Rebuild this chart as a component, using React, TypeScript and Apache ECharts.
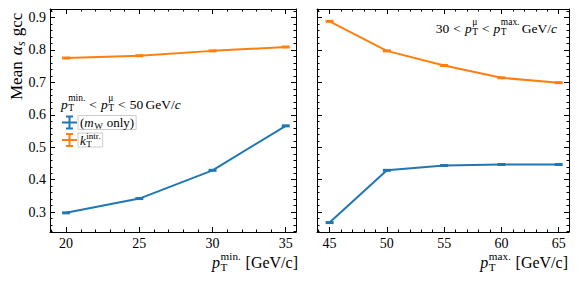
import React, { useEffect, useRef } from "react";
import * as echarts from "echarts";

// ---- data ----
const leftX = [20, 25, 30, 35];
const leftBlue = [0.298, 0.342, 0.429, 0.566];
const leftOrange = [0.775, 0.782, 0.797, 0.809];
const rightX = [45, 50, 55, 60, 65];
const rightBlue = [0.268, 0.429, 0.444, 0.447, 0.447];
const rightOrange = [0.888, 0.797, 0.752, 0.714, 0.699];

const yMajor = [0.3, 0.4, 0.5, 0.6, 0.7, 0.8, 0.9];
const yMinor = [0.24, 0.26, 0.28, 0.32, 0.34, 0.36, 0.38, 0.42, 0.44, 0.46, 0.48, 0.52, 0.54, 0.56, 0.58, 0.62, 0.64, 0.66, 0.68, 0.72, 0.74, 0.76, 0.78, 0.82, 0.84, 0.86, 0.88, 0.92];
const leftXMajor = [20, 25, 30, 35];
const leftXMinor = [19, 21, 22, 23, 24, 26, 27, 28, 29, 31, 32, 33, 34];
const rightXMajor = [45, 50, 55, 60, 65];
const rightXMinor = [44, 46, 47, 48, 49, 51, 52, 53, 54, 56, 57, 58, 59, 61, 62, 63, 64];

const BLUE = "#1f77b4";
const ORANGE = "#ff7f0e";
const FONT = "'Liberation Serif', 'DejaVu Serif', serif";

let measureCtx: CanvasRenderingContext2D | null = null;
function tw(t: string, size: number, it: boolean) {
  if (!measureCtx) measureCtx = document.createElement("canvas").getContext("2d");
  measureCtx!.font = `${it ? "italic " : ""}${size}px ${FONT}`;
  return measureCtx!.measureText(t).width;
}

type Seg = { t?: string; it?: boolean; sub?: string; sup?: string; subIt?: boolean; supIt?: boolean; gap?: number };

function math(segs: Seg[], size: number, x: number, y: number, align: "left" | "right", rotation = 0, supOff = 0.42) {
  const ss = size * 0.7;
  const children: any[] = [];
  let cx = 0;
  const mk = (text: string, px: number, py: number, sz: number, it: boolean) => ({
    type: "text",
    x: px,
    y: py,
    silent: true,
    style: { text, fill: "#000", fontSize: sz, fontFamily: FONT, fontStyle: it ? "italic" : "normal", align: "left", verticalAlign: "middle" },
  });
  for (const s of segs) {
    if (s.gap) cx += s.gap * size;
    if (s.t) {
      children.push(mk(s.t, cx, 0, size, !!s.it));
      cx += tw(s.t, size, !!s.it);
    }
    if (s.sub !== undefined || s.sup !== undefined) {
      let w = 0;
      cx += 0.5;
      if (s.sub) {
        children.push(mk(s.sub, cx, size * 0.3, ss, !!s.subIt));
        w = Math.max(w, tw(s.sub, ss, !!s.subIt));
      }
      if (s.sup) {
        children.push(mk(s.sup, cx, -size * supOff, ss, !!s.supIt));
        w = Math.max(w, tw(s.sup, ss, !!s.supIt));
      }
      cx += w;
    }
  }
  const gx = align === "right" && rotation === 0 ? x - cx : x;
  return { el: { type: "group", x: gx, y, rotation, children }, width: cx };
}

function xAxes(grid: number, min: number, max: number, major: number[], minor: number[]) {
  const base = { type: "value", gridIndex: grid, min, max, splitLine: { show: false } };
  const line = { show: true, onZero: false, lineStyle: { color: "#000", width: 1 } };
  const mk = (position: string, ticks: number[], len: number, showLine: boolean, label: boolean) => ({
    ...base,
    position,
    axisLine: showLine ? line : { show: false, onZero: false },
    axisTick: { show: true, inside: true, length: len, customValues: ticks, lineStyle: { color: "#000", width: 1 } },
    axisLabel: label
      ? { show: true, customValues: ticks, margin: 4, fontFamily: FONT, fontSize: 14, color: "#000" }
      : { show: false },
  });
  return [mk("bottom", major, 5, true, true), mk("bottom", minor, 2.5, false, false), mk("top", major, 5, true, false), mk("top", minor, 2.5, false, false)];
}

function yAxes(grid: number, labels: boolean) {
  const base = { type: "value", gridIndex: grid, min: 0.239, max: 0.926, splitLine: { show: false } };
  const line = { show: true, onZero: false, lineStyle: { color: "#000", width: 1 } };
  const mk = (position: string, ticks: number[], len: number, showLine: boolean, label: boolean) => ({
    ...base,
    position,
    axisLine: showLine ? line : { show: false, onZero: false },
    axisTick: { show: true, inside: true, length: len, customValues: ticks, lineStyle: { color: "#000", width: 1 } },
    axisLabel: label
      ? { show: true, customValues: ticks, margin: 4, fontFamily: FONT, fontSize: 14, color: "#000", formatter: (v: number) => v.toFixed(1) }
      : { show: false },
  });
  return [mk("left", yMajor, 5, true, labels), mk("left", yMinor, 2.5, false, false), mk("right", yMajor, 5, true, false), mk("right", yMinor, 2.5, false, false)];
}

function series(xs: number[], ys: number[], color: string, xi: number, yi: number) {
  return {
    type: "line",
    xAxisIndex: xi,
    yAxisIndex: yi,
    data: xs.map((x, i) => [x, ys[i]]),
    symbol: "rect",
    symbolSize: [8, 3],
    showSymbol: true,
    color,
    lineStyle: { color, width: 2 },
    itemStyle: { color },
    silent: true,
  };
}

function errIcon(cx: number, cy: number, color: string) {
  const ls = { stroke: color, lineWidth: 2 };
  return [
    { type: "line", shape: { x1: cx - 7.5, y1: cy, x2: cx + 7.5, y2: cy }, style: ls, silent: true },
    { type: "line", shape: { x1: cx, y1: cy - 6, x2: cx, y2: cy + 6 }, style: ls, silent: true },
    { type: "line", shape: { x1: cx - 3.5, y1: cy - 6, x2: cx + 3.5, y2: cy - 6 }, style: ls, silent: true },
    { type: "line", shape: { x1: cx - 3.5, y1: cy + 6, x2: cx + 3.5, y2: cy + 6 }, style: ls, silent: true },
  ];
}

function buildOption() {
  const G = 0.3;
  const legendTitle = math(
    [{ t: "p", it: true }, { sub: "T", sup: "min." }, { gap: G }, { t: "<" }, { gap: G }, { t: "p", it: true }, { sub: "T", sup: "μ" }, { gap: G }, { t: "<" }, { gap: G }, { t: "50" }, { gap: 0.17 }, { t: "GeV/" }, { t: "c", it: true }],
    13.5, 61, 104, "left");
  const annot = math(
    [{ t: "30" }, { gap: G }, { t: "<" }, { gap: G }, { t: "p", it: true }, { sub: "T", sup: "μ" }, { gap: G }, { t: "<" }, { gap: G }, { t: "p", it: true }, { sub: "T", sup: "max." }, { gap: 0.17 }, { t: "GeV/" }, { t: "c", it: true }],
    13.5, 557, 28, "right");
  const xl1 = math([{ t: "p", it: true }, { sub: "T", sup: "min." }, { gap: 0.3 }, { t: "[GeV/c]" }], 16, 298, 262, "right", 0, 0.38);
  const xl2 = math([{ t: "p", it: true }, { sub: "T", sup: "max." }, { gap: 0.3 }, { t: "[GeV/c]" }], 16, 568, 262, "right", 0, 0.38);
  const yl = math([{ t: "Mean" }, { gap: 0.35 }, { t: "α", it: true }, { sub: "s", subIt: true }, { gap: 0.3 }, { t: "gcc" }], 17, 16, 100, "left", Math.PI / 2);
  const e1 = math([{ t: "(" }, { t: "m", it: true }, { sub: "W" }, { gap: 0.3 }, { t: "only)" }], 13, 80, 122, "left");
  const e2 = math([{ t: "k", it: true }, { sub: "T", sup: "intr." }], 13, 80, 140.5, "left", 0, 0.36);
  const box = (x: number, y: number, w: number, h: number) => ({ type: "rect", shape: { x, y, width: w, height: h }, style: { fill: "none", stroke: "#cccccc", lineWidth: 1 }, silent: true });

  return {
    animation: false,
    backgroundColor: "#fff",
    grid: [
      { left: 50, top: 9, width: 246, height: 223 },
      { left: 317, top: 9, width: 252, height: 223 },
    ],
    xAxis: [...xAxes(0, 18.9, 35.7, leftXMajor, leftXMinor), ...xAxes(1, 43.9, 65.9, rightXMajor, rightXMinor)],
    yAxis: [...yAxes(0, true), ...yAxes(1, false)],
    series: [
      series(leftX, leftBlue, BLUE, 0, 0),
      series(leftX, leftOrange, ORANGE, 0, 0),
      series(rightX, rightBlue, BLUE, 4, 4),
      series(rightX, rightOrange, ORANGE, 4, 4),
    ],
    graphic: [
      legendTitle.el,
      box(78, 115.5, e1.width + 4, 14),
      box(78, 133, e2.width + 4, 14),
      ...errIcon(69.5, 122.5, BLUE),
      ...errIcon(69.5, 140, ORANGE),
      e1.el,
      e2.el,
      annot.el,
      xl1.el,
      xl2.el,
      yl.el,
    ],
  };
}

export default function App() {
  const ref = useRef<HTMLDivElement>(null);
  useEffect(() => {
    const chart = echarts.init(ref.current!, null, { renderer: "svg" });
    chart.setOption(buildOption() as any);
    return () => chart.dispose();
  }, []);
  return <div ref={ref} style={{ position: "absolute", left: 0, top: 0, width: 579, height: 282 }} />;
}
